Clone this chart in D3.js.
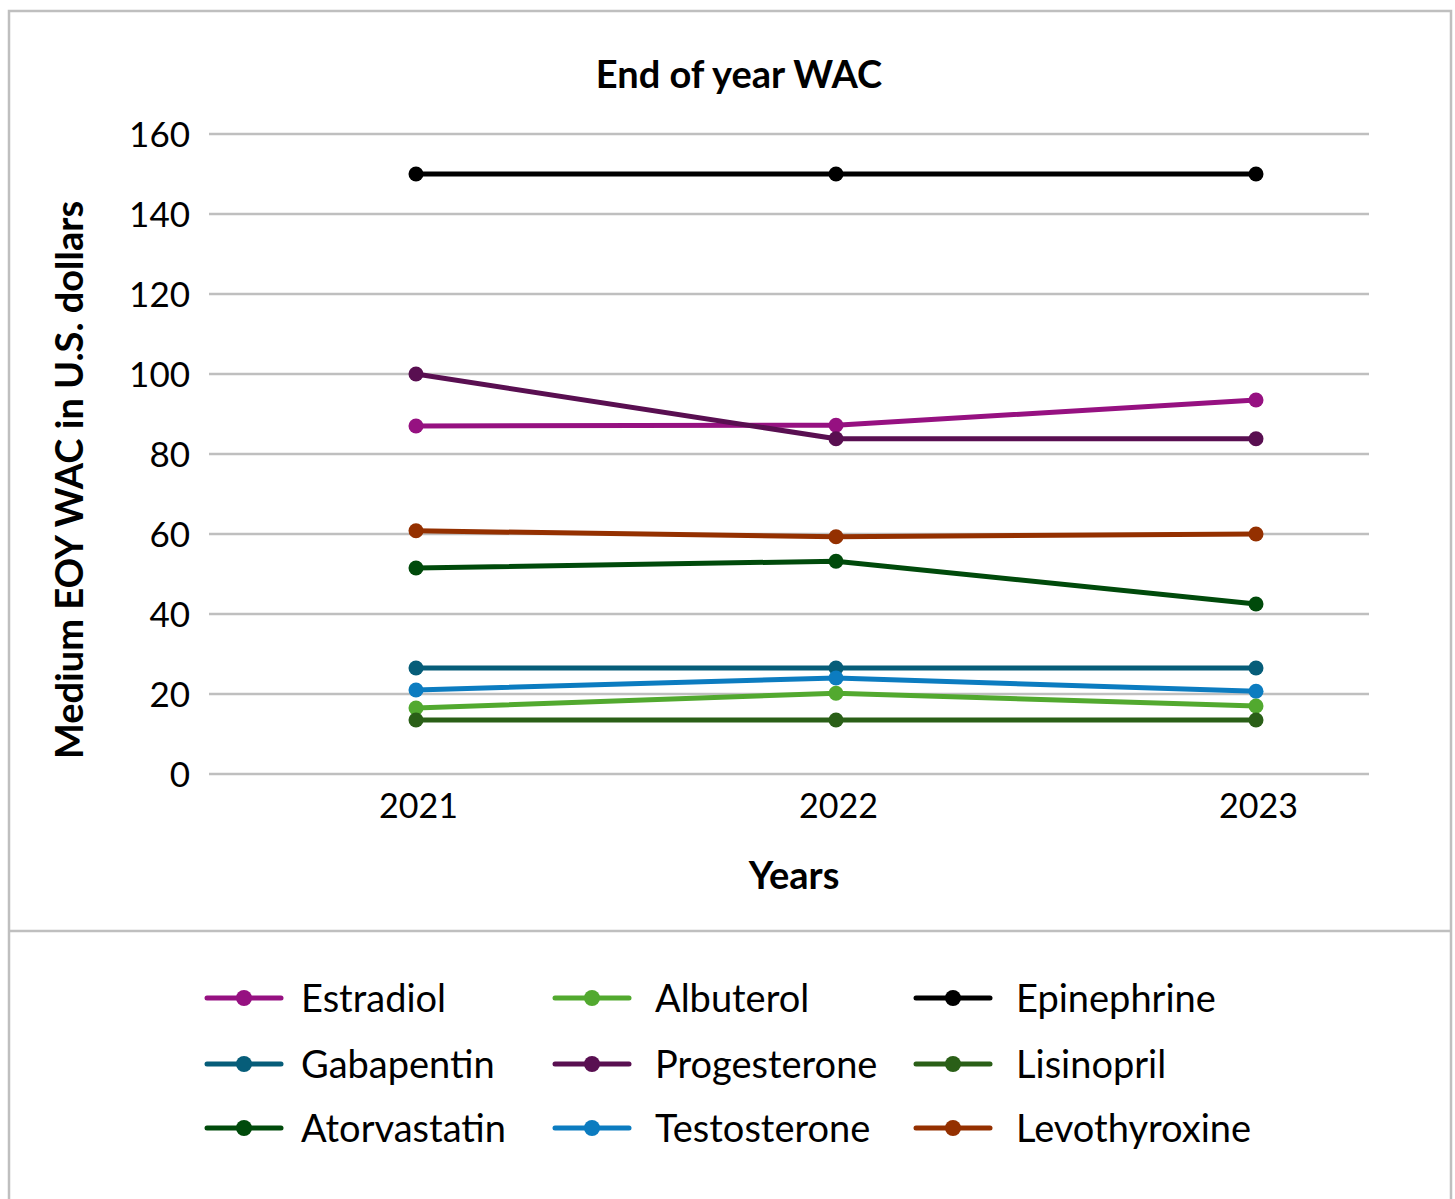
<!DOCTYPE html>
<html>
<head>
<meta charset="utf-8">
<script src="https://cdn.jsdelivr.net/npm/d3@7"></script>
<style>
  html, body { margin: 0; padding: 0; background: #fff; }
  svg { display: block; }
  text { font-family: Lato, "Open Sans", sans-serif; fill: #000; }
</style>
</head>
<body>
<svg id="chart" width="1455" height="1199"></svg>
<script>
// Median end-of-year wholesale acquisition cost per drug
const years = ["2021", "2022", "2023"];
const yTicks = [0, 20, 40, 60, 80, 100, 120, 140, 160];

const drugs = ["Estradiol", "Albuterol", "Epinephrine",
               "Gabapentin", "Progesterone", "Lisinopril",
               "Atorvastatin", "Testosterone", "Levothyroxine"];

const estradiol     = [87, 87.2, 93.5];
const albuterol     = [16.5, 20.2, 17];
const epinephrine   = [150, 150, 150];
const gabapentin    = [26.5, 26.5, 26.5];
const progesterone  = [100, 83.8, 83.8];
const lisinopril    = [13.5, 13.5, 13.5];
const atorvastatin  = [51.5, 53.2, 42.5];
const testosterone  = [21, 24, 20.7];
const levothyroxine = [60.8, 59.3, 60];

const seriesValues = [estradiol, albuterol, epinephrine,
                      gabapentin, progesterone, lisinopril,
                      atorvastatin, testosterone, levothyroxine];

const colors = ["#961181", "#52a92f", "#000000",
                "#065d79", "#590f51", "#2a5f17",
                "#004a0b", "#0c7cc0", "#943000"];

// draw order: last drawn ends on top
const drawOrder = ["Epinephrine", "Estradiol", "Progesterone", "Levothyroxine",
                   "Atorvastatin", "Gabapentin", "Testosterone", "Albuterol", "Lisinopril"];

const svg = d3.select("#chart");
const grey = "#bfbfbf";

// outer frame and legend divider
svg.append("rect").attr("x", 9).attr("y", 11).attr("width", 1442).attr("height", 1200)
  .attr("fill", "none").attr("stroke", grey).attr("stroke-width", 2.5);
svg.append("line").attr("x1", 9).attr("x2", 1451).attr("y1", 931).attr("y2", 931)
  .attr("stroke", grey).attr("stroke-width", 2.5);

const plot = { left: 209, right: 1369, top: 134, bottom: 774 };

const x = d3.scalePoint().domain(years).range([416, 1256]);
const y = d3.scaleLinear().domain([0, 160]).range([plot.bottom, plot.top]);

// horizontal gridlines
svg.append("g").selectAll("line").data(yTicks).join("line")
  .attr("x1", plot.left).attr("x2", plot.right)
  .attr("y1", d => y(d)).attr("y2", d => y(d))
  .attr("stroke", grey).attr("stroke-width", 2.5);

// y axis tick labels
const yAxis = d3.axisLeft(y).tickValues(yTicks).tickSize(0).tickPadding(0);
const gy = svg.append("g").attr("transform", "translate(190,0)").call(yAxis);
gy.select(".domain").remove();
gy.selectAll("text").attr("font-size", 35).attr("font-family", "Lato, sans-serif")
  .attr("fill", "#000").attr("dy", "0.36em");

// x axis tick labels
const xAxis = d3.axisBottom(x).tickSize(0).tickPadding(0);
const gx = svg.append("g").attr("transform", "translate(2,818)").call(xAxis);
gx.select(".domain").remove();
gx.selectAll("text").attr("font-size", 34).attr("font-family", "Lato, sans-serif")
  .attr("fill", "#000").attr("dy", 0);

// titles
svg.append("text").attr("x", 739).attr("y", 88).attr("text-anchor", "middle")
  .attr("font-size", 38).attr("font-weight", 700).text("End of year WAC");
svg.append("text").attr("x", 794).attr("y", 889).attr("text-anchor", "middle")
  .attr("font-size", 38).attr("font-weight", 700).text("Years");
svg.append("text").attr("transform", "translate(83,480) rotate(-90)")
  .attr("text-anchor", "middle").attr("font-size", 38).attr("font-weight", 700)
  .text("Medium EOY WAC in U.S. dollars");

// series lines with markers
const line = d3.line().x((d, i) => x(years[i])).y(d => y(d));
const gSeries = svg.append("g");
drawOrder.forEach(name => {
  const i = drugs.indexOf(name);
  const g = gSeries.append("g");
  g.append("path").datum(seriesValues[i]).attr("d", line)
    .attr("fill", "none").attr("stroke", colors[i]).attr("stroke-width", 5)
    .attr("stroke-linejoin", "round");
  g.selectAll("circle").data(seriesValues[i]).join("circle")
    .attr("cx", (d, j) => x(years[j])).attr("cy", d => y(d)).attr("r", 7.5)
    .attr("fill", colors[i]);
});

// legend: three columns, three rows
const colX = [207, 555, 916];
const textOffset = [94, 100, 100];
const rowY = [998, 1064, 1128];
const legend = svg.append("g");
drugs.forEach((name, i) => {
  const c = i % 3;
  const cx = colX[c], cy = rowY[Math.floor(i / 3)];
  const g = legend.append("g").attr("transform", `translate(${cx},${cy})`);
  g.append("line").attr("x1", 0).attr("x2", 74).attr("y1", 0).attr("y2", 0)
    .attr("stroke", colors[i]).attr("stroke-width", 5).attr("stroke-linecap", "round");
  g.append("circle").attr("cx", 37).attr("cy", 0).attr("r", 8).attr("fill", colors[i]);
  g.append("text").attr("x", textOffset[c]).attr("y", 0).attr("dy", "0.36em")
    .attr("font-size", 38).text(name);
});
</script>
</body>
</html>
